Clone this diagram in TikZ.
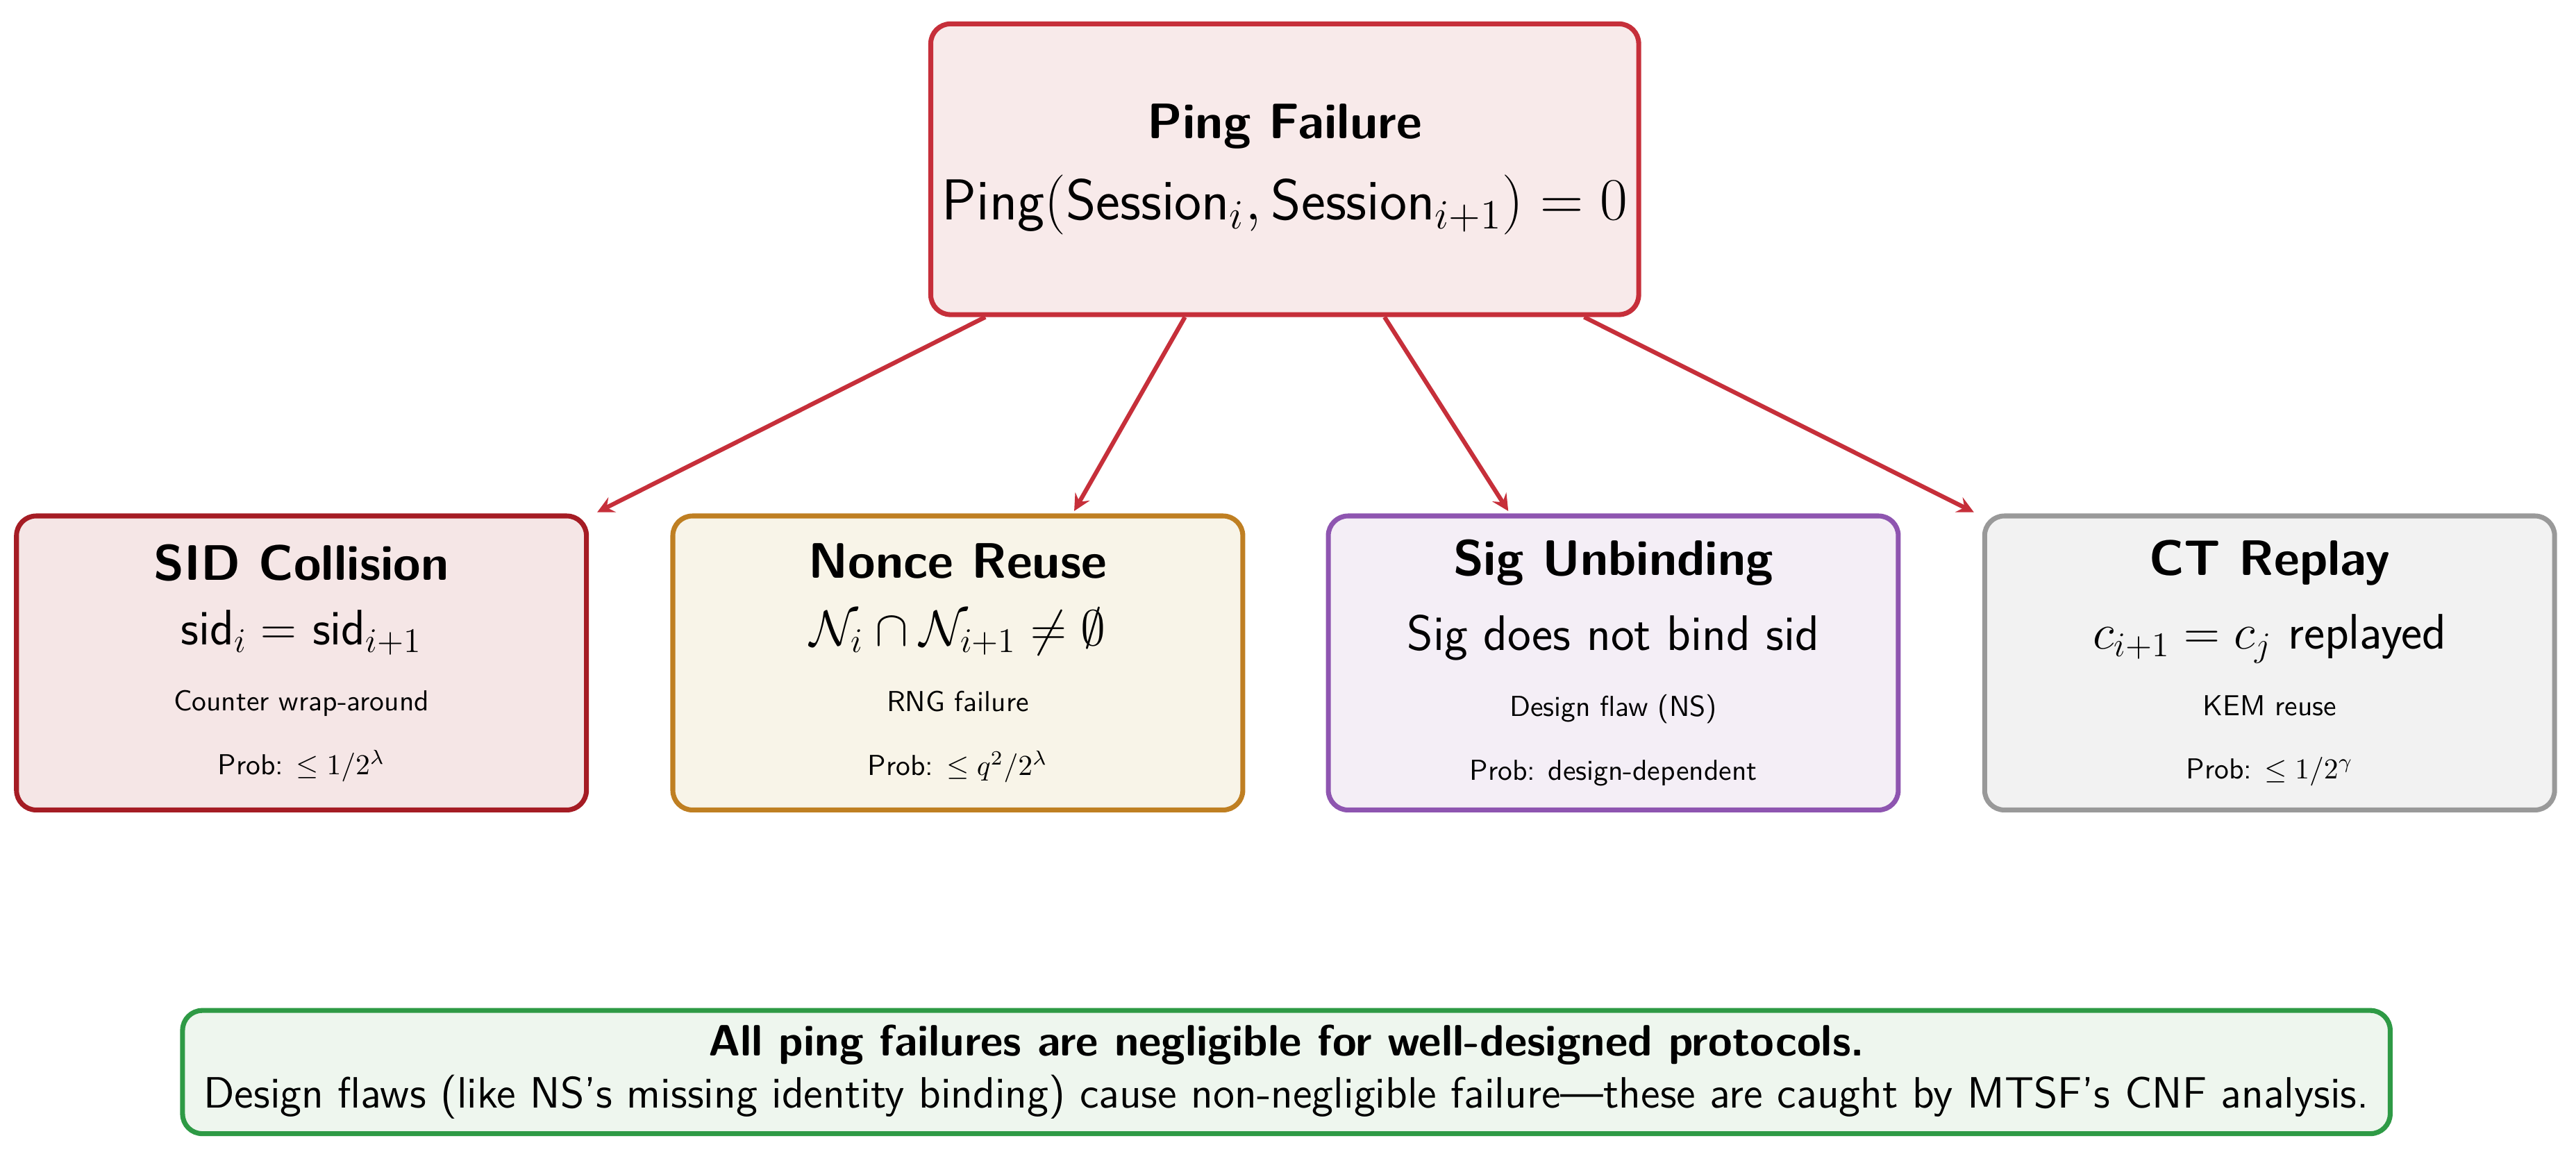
\documentclass[tikz,border=0pt]{standalone}
\usepackage{amsmath,amssymb}
\usepackage{xcolor}
\usetikzlibrary{calc}
\definecolor{topred}{HTML}{C62F3A}
\definecolor{topfill}{HTML}{F8EAEA}
\definecolor{sidred}{HTML}{A51C24}
\definecolor{sidfill}{HTML}{F5E6E6}
\definecolor{nonceor}{HTML}{BF7F22}
\definecolor{noncefill}{HTML}{F8F4E8}
\definecolor{sigpur}{HTML}{8E55B0}
\definecolor{sigfill}{HTML}{F4EEF6}
\definecolor{ctgray}{HTML}{999999}
\definecolor{ctfill}{HTML}{F2F2F2}
\definecolor{okgreen}{HTML}{2E9A45}
\definecolor{okfill}{HTML}{EEF6EE}
\begin{document}
\begin{tikzpicture}[
    x=0.02cm, y=-0.02cm,
    every node/.style={rectangle, rounded corners=0.24cm, line width=1.7pt, align=center, font=\sffamily},
    failure/.style={minimum width=6.94cm, minimum height=3.58cm},
    arrow/.style={draw=topred, line width=1.5pt, -stealth, shorten >=1pt}
]
\useasboundingbox (0,0) rectangle (1568,701);
\node[draw=topred, fill=topfill, minimum width=8.62cm, minimum height=3.54cm] (ping) at (782,103)
    {{\LARGE\bfseries Ping Failure}\\[8pt] {\fontsize{20}{24}\selectfont Ping$(\text{Session}_i, \text{Session}_{i+1}) = 0$}};
\node[failure, draw=sidred, fill=sidfill] (sid) at (183.5,403.5)
    {{\LARGE\bfseries SID Collision}\\[9pt] {\LARGE sid$_i = $ sid$_{i+1}$}\\[11pt]
     {\normalsize Counter wrap-around}\\[10pt] {\normalsize Prob: $\leq 1/2^{\lambda}$}};
\node[failure, draw=nonceor, fill=noncefill] (nonce) at (583,403.5)
    {{\LARGE\bfseries Nonce Reuse}\\[9pt] {\LARGE $\mathcal{N}_i \cap \mathcal{N}_{i+1} \neq \emptyset$}\\[11pt]
     {\normalsize RNG failure}\\[10pt] {\normalsize Prob: $\leq q^2/2^{\lambda}$}};
\node[failure, draw=sigpur, fill=sigfill] (sig) at (982,403.5)
    {{\LARGE\bfseries Sig Unbinding}\\[9pt] {\LARGE Sig does not bind sid}\\[11pt]
     {\normalsize Design flaw (NS)}\\[10pt] {\normalsize Prob: design-dependent}};
\node[failure, draw=ctgray, fill=ctfill] (ct) at (1381.5,403.5)
    {{\LARGE\bfseries CT Replay}\\[9pt] {\LARGE $c_{i+1} = c_j$ replayed}\\[11pt]
     {\normalsize KEM reuse}\\[10pt] {\normalsize Prob: $\leq 1/2^{\gamma}$}};
\node[draw=okgreen, fill=okfill, minimum width=26.88cm, minimum height=1.5cm, font=\sffamily\fontsize{15.2}{18}\selectfont] (summary) at (783,652.5)
    {\textbf{All ping failures are negligible for well-designed protocols.}\\
     Design flaws (like NS's missing identity binding) cause non-negligible failure---these are caught by MTSF's CNF analysis.};
% arrows from ping to the failure kinds
\draw[arrow] ($(ping.south west)!0.08!(ping.south east)$) -- ($(sid.north west)!1.01!(sid.north east)$);
\draw[arrow] ($(ping.south west)!0.36!(ping.south east)$) -- ($(nonce.north west)!0.70!(nonce.north east)$);
\draw[arrow] ($(ping.south west)!0.64!(ping.south east)$) -- ($(sig.north west)!0.32!(sig.north east)$);
\draw[arrow] ($(ping.south west)!0.92!(ping.south east)$) -- ($(ct.north west)!-0.01!(ct.north east)$);
\end{tikzpicture}
\end{document}
